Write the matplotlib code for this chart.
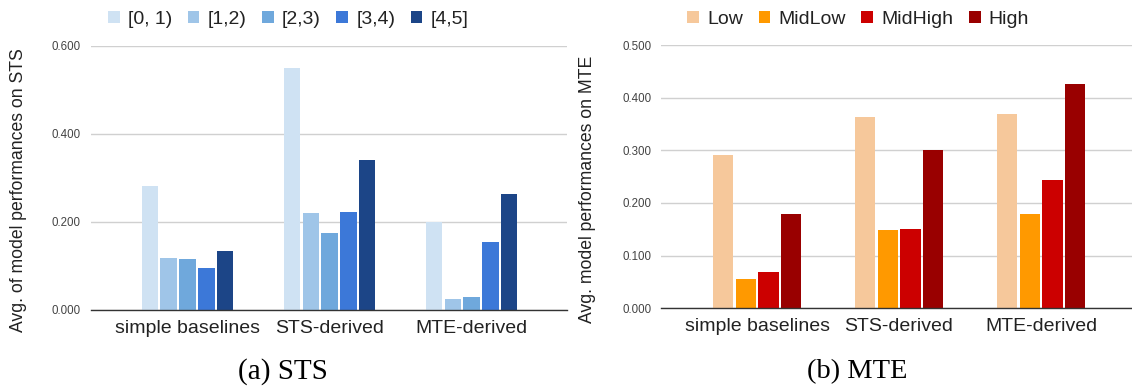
import numpy as np
import matplotlib
matplotlib.use("Agg")
import matplotlib.pyplot as plt
from matplotlib.patches import Patch

plt.rcParams['font.family'] = ['Liberation Sans', 'DejaVu Sans']

groups = ['simple baselines', 'STS-derived', 'MTE-derived']

# (a) STS
sts_labels = ['[0, 1)', '[1,2)', '[2,3)', '[3,4)', '[4,5]']
sts_colors = ['#cfe2f3', '#9fc5e8', '#6fa8dc', '#3c78d8', '#1c4587']
sts_vals = [
    [0.282, 0.549, 0.200],
    [0.118, 0.220, 0.024],
    [0.115, 0.176, 0.029],
    [0.095, 0.223, 0.155],
    [0.133, 0.340, 0.264],
]
sts_ticks = [0.0, 0.2, 0.4, 0.6]

# (b) MTE
mte_labels = ['Low', 'MidLow', 'MidHigh', 'High']
mte_colors = ['#f6c89b', '#ff9900', '#cc0000', '#990000']
mte_vals = [
    [0.291, 0.363, 0.369],
    [0.056, 0.149, 0.179],
    [0.068, 0.151, 0.243],
    [0.180, 0.301, 0.425],
]
mte_ticks = [0.0, 0.1, 0.2, 0.3, 0.4, 0.5]

W, H = 1132, 387
fig = plt.figure(figsize=(W / 100, H / 100), dpi=100)


def panel(rect, vals, colors, ticks, step, width, xlim):
    ax = fig.add_axes(rect)
    x = np.arange(len(groups))
    n = len(vals)
    for i, (v, c) in enumerate(zip(vals, colors)):
        ax.bar(x + (i - (n - 1) / 2) * step, v, width=width, color=c, zorder=3)
    ax.set_xlim(*xlim)
    ax.set_ylim(0, ticks[-1])
    ax.set_yticks(ticks)
    ax.set_yticklabels(['%.3f' % t for t in ticks], fontsize=8.3, color='#444444')
    ax.set_xticks(x)
    ax.set_xticklabels(groups, fontsize=14, color='#222222')
    ax.tick_params(axis='both', length=0)
    ax.tick_params(axis='y', pad=7)
    ax.tick_params(axis='x', pad=7)
    ax.grid(axis='y', color='#d0d0d0', linewidth=1, zorder=0)
    for s in ['top', 'right', 'left']:
        ax.spines[s].set_visible(False)
    ax.spines['bottom'].set_color('#333333')
    ax.spines['bottom'].set_linewidth(1)
    ax.spines['bottom'].set_zorder(4)
    return ax


ax1 = panel([90.7 / W, 1 - 310 / H, (566.7 - 90.7) / W, (310 - 46) / H],
            sts_vals, sts_colors, sts_ticks, 0.132, 0.117, (-0.682, 2.67))
ax2 = panel([661 / W, 1 - 308.3 / H, (1132 - 661) / W, (308.3 - 45) / H],
            mte_vals, mte_colors, mte_ticks, 0.1606, 0.1423, (-0.676, 2.64))

fig.text(19 / W, 1 - 190.5 / H, 'Avg. of model performances on STS', rotation=90,
         ha='center', va='center', fontsize=12.7, color='#222222')
fig.text(588 / W, 1 - 189 / H, 'Avg. model performances on MTE', rotation=90,
         ha='center', va='center', fontsize=12.7, color='#222222')

for labels, colors, cx in [(sts_labels, sts_colors, 288.3), (mte_labels, mte_colors, 858.2)]:
    handles = [Patch(facecolor=c, edgecolor='none') for c in colors]
    leg = fig.legend(handles, labels, loc='center', bbox_to_anchor=(cx / W, 1 - 19.2 / H),
                     ncol=len(labels), frameon=False, fontsize=14,
                     handlelength=0.6, handleheight=0.6, handletextpad=0.42,
                     columnspacing=0.8, borderpad=0, borderaxespad=0)
    for t in leg.get_texts():
        t.set_color('#222222')

fig.text(283.3 / W, 1 - 372 / H, '(a) STS', ha='center', va='center',
         fontsize=21, family=['Liberation Serif', 'DejaVu Serif'])
fig.text(857.3 / W, 1 - 372 / H, '(b) MTE', ha='center', va='center',
         fontsize=20.5, family=['Liberation Serif', 'DejaVu Serif'])

fig.savefig('out.png', dpi=100)
